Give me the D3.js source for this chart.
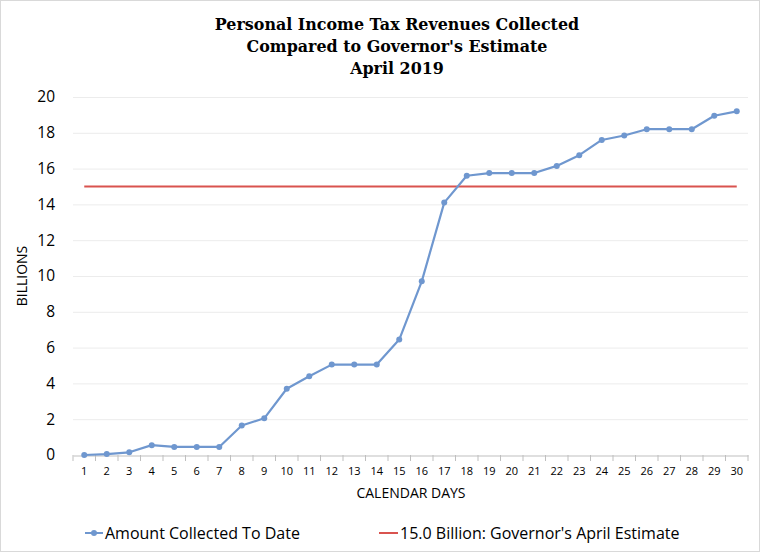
<!DOCTYPE html>
<html><head><meta charset="utf-8">
<script src="https://cdn.jsdelivr.net/npm/d3@7"></script>
<style>body{margin:0;background:#fff}svg{display:block}</style>
</head><body>
<svg id="c" width="760" height="552"></svg>
<script>
const days = d3.range(1, 31).map(String);
const collected = [0.0,0.05,0.15,0.55,0.45,0.45,0.45,1.65,2.05,3.7,4.4,5.05,5.05,5.05,6.45,9.7,14.1,15.6,15.75,15.75,15.75,16.15,16.75,17.6,17.85,18.2,18.2,18.2,18.95,19.2];
const estimate = 15.0;
const yTicks = [0,2,4,6,8,10,12,14,16,18,20];
const titleLines = ["Personal Income Tax Revenues Collected","Compared to Governor's Estimate","April 2019"];
const legendLabels = ["Amount Collected To Date","15.0 Billion: Governor's April Estimate"];

const svg = d3.select("#c");
svg.append("rect").attr("x",0.5).attr("y",0.5).attr("width",759).attr("height",551).attr("fill","#fff").attr("stroke","#d9d9d9");

const x = d3.scaleBand().domain(days).range([73, 748]);
const y = d3.scaleLinear().domain([0,20]).range([455, 97]);
const cx = d => x(d) + x.bandwidth()/2;

// gridlines
svg.append("g").selectAll("line").data(yTicks.filter(t=>t>0)).join("line")
  .attr("x1",73).attr("x2",748).attr("y1",d=>y(d)+0.5).attr("y2",d=>y(d)+0.5)
  .attr("stroke","#ececec").attr("stroke-width",1);

// y axis labels
const yAxis = svg.append("g").attr("transform","translate(73,0)")
  .call(d3.axisLeft(y).tickValues(yTicks).tickSize(0).tickPadding(18));
yAxis.select(".domain").remove();
yAxis.selectAll("text").attr("font-family","'Open Sans', sans-serif").attr("font-size",15.5).attr("fill","#000");

// x axis
const xAxis = svg.append("g").attr("transform","translate(0,455.5)")
  .call(d3.axisBottom(x).tickSize(0).tickPadding(12));
xAxis.select(".domain").attr("stroke","#bfbfbf");
xAxis.selectAll("text").attr("font-family","'Open Sans', sans-serif").attr("font-size",11).attr("fill","#000");
svg.append("g").selectAll("line").data(d3.range(0,31)).join("line")
  .attr("x1",i=>73+i*x.step()).attr("x2",i=>73+i*x.step())
  .attr("y1",455).attr("y2",461).attr("stroke","#bfbfbf");

// estimate line
svg.append("line").attr("x1",cx("1")).attr("x2",cx("30")).attr("y1",y(estimate)).attr("y2",y(estimate))
  .attr("stroke","#d9534f").attr("stroke-width",2);

// collected line
const line = d3.line().x((d,i)=>cx(days[i])).y(d=>y(d));
svg.append("path").datum(collected).attr("d",line).attr("fill","none")
  .attr("stroke","#6f97cf").attr("stroke-width",2.2).attr("stroke-linejoin","round");
svg.append("g").selectAll("circle").data(collected).join("circle")
  .attr("cx",(d,i)=>cx(days[i])).attr("cy",d=>y(d)).attr("r",3).attr("fill","#6f97cf");

// title
svg.append("text").attr("x",397).attr("y",30).attr("text-anchor","middle")
  .attr("font-family","'DejaVu Serif', serif").attr("font-weight","bold").attr("font-size",15.9).attr("fill","#000")
  .selectAll("tspan").data(titleLines).join("tspan").attr("x",397).attr("dy",(d,i)=>i?22:0).text(d=>d);

// axis titles
svg.append("text").attr("x",411).attr("y",498).attr("text-anchor","middle")
  .attr("font-family","'Open Sans', sans-serif").attr("font-size",14).attr("fill","#000").text("CALENDAR DAYS");
svg.append("text").attr("transform","translate(27,276) rotate(-90)").attr("text-anchor","middle")
  .attr("font-family","'Open Sans', sans-serif").attr("font-size",14).attr("fill","#000").text("BILLIONS");

// legend
const lg = svg.append("g");
lg.append("line").attr("x1",85).attr("x2",103).attr("y1",533).attr("y2",533).attr("stroke","#6f97cf").attr("stroke-width",2);
lg.append("circle").attr("cx",94).attr("cy",533).attr("r",3).attr("fill","#6f97cf");
lg.append("text").attr("x",105).attr("y",539).attr("font-family","'Open Sans', sans-serif").attr("font-size",16).attr("fill","#000").text(legendLabels[0]);
lg.append("line").attr("x1",379).attr("x2",398).attr("y1",533).attr("y2",533).attr("stroke","#d9534f").attr("stroke-width",2);
lg.append("text").attr("x",400).attr("y",539).attr("font-family","'Open Sans', sans-serif").attr("font-size",16).attr("fill","#000").text(legendLabels[1]);
</script>
</body></html>
